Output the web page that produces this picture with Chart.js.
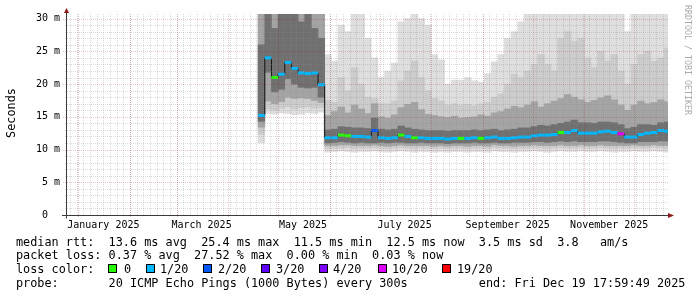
<!DOCTYPE html>
<html>
<head>
<meta charset="utf-8">
<title>smokeping</title>
<script src="https://cdn.jsdelivr.net/npm/chart.js@4.4.0/dist/chart.umd.min.js"></script>
<style>
  html, body { margin: 0; padding: 0; background: #fff; }
  #wrap { position: relative; width: 697px; height: 297px; overflow: hidden; }
  #myChart { position: absolute; left: 0; top: 0; }
  .leg { position: absolute; font: 11.83px "DejaVu Sans Mono", monospace; white-space: pre; color: #000; line-height: 14px; }
  .box { position: absolute; top: 264px; width: 7px; height: 7px; border: 1px solid #000; }
</style>
</head>
<body>
<div id="wrap">
  <canvas id="myChart" width="697" height="297"></canvas>
  <div class="leg" style="left:16px;top:234.5px">median rtt:  13.6 ms avg  25.4 ms max  11.5 ms min  12.5 ms now  3.5 ms sd  3.8   am/s</div>
  <div class="leg" style="left:16px;top:248.2px">packet loss: 0.37 % avg  27.52 % max  0.00 % min  0.03 % now</div>
  <div class="leg" style="left:16px;top:261.9px">loss color:</div>
  <div id="lossRow"></div>
  <div class="leg" style="left:16px;top:275.6px">probe:       20 ICMP Echo Pings (1000 Bytes) every 300s          end: Fri Dec 19 17:59:49 2025</div>
</div>
<script>
// days counted from 1 Jan 2025, one bin = 4 days
const days = [110,114,118,122,126,130,134,138,142,146,
  150,154,158,162,166,170,174,178,182,186,
  190,194,198,202,206,210,214,218,222,226,
  230,234,238,242,246,250,254,258,262,266,
  270,274,278,282,286,290,294,298,302,306,
  310,314,318,322,326,330,334,338,342,346,
  350,354];

// median rtt (ms)
const median = [15.2,24.0,21.0,21.5,23.3,22.4,21.7,21.6,21.7,19.9,
  11.8,11.8,12.2,12.1,12.0,12.0,11.9,12.9,11.8,11.7,
  11.8,12.2,12.0,11.8,11.8,11.7,11.7,11.7,11.6,11.7,
  11.7,11.7,11.8,11.7,11.8,11.9,11.7,11.7,11.8,11.9,
  11.9,12.1,12.2,12.2,12.3,12.6,12.6,12.9,12.5,12.5,
  12.5,12.7,12.8,12.6,12.4,11.9,11.9,12.3,12.5,12.6,
  12.9,12.8];

// lost pings out of 20
const loss = [1,1,0,1,1,1,1,1,1,1,
  1,1,0,0,1,1,1,2,1,1,
  1,0,1,0,1,1,1,1,1,1,
  0,1,1,0,1,1,1,1,1,1,
  1,1,1,1,1,0,1,1,1,1,
  1,1,1,1,10,1,1,1,1,1,
  1,1];

// smoke bands (ms), outer -> inner
const aLo = [11.0,15.5,15.4,15.6,15.5,15.3,15.4,15.6,15.5,15.7,
  9.6,9.7,9.8,9.7,9.6,9.7,9.7,9.8,9.7,9.6,
  9.7,9.8,9.7,9.6,9.7,9.7,9.6,9.7,9.6,9.7,
  9.7,9.6,9.7,9.7,9.6,9.8,9.7,9.7,9.6,9.7,
  9.7,9.8,9.7,9.6,9.7,9.8,9.7,9.7,9.8,9.7,
  9.7,9.8,9.7,9.6,9.7,9.7,9.8,9.7,9.7,9.8,
  9.7,9.6];
const aHi = [30.7,30.7,30.7,30.7,30.7,30.7,30.7,30.7,30.7,30.7,
  24.5,23.5,29.0,28.0,30.7,30.7,27.0,24.0,21.0,22.0,
  23.2,29.5,30.0,30.7,30.0,29.0,24.5,23.7,20.0,20.6,
  20.6,21.0,20.5,20.3,21.6,23.4,24.5,27.0,28.0,29.5,
  30.7,30.7,30.7,30.7,30.7,30.7,30.7,30.7,30.7,30.7,
  30.7,30.7,30.7,30.7,30.7,28.0,30.7,30.7,30.7,30.7,
  30.7,30.7];
const bLo = [12.3,16.2,16.0,16.3,16.5,16.2,16.4,16.5,16.3,16.4,
  10.1,10.2,10.2,10.3,10.1,10.2,10.2,10.3,10.2,10.1,
  10.2,10.3,10.2,10.1,10.2,10.2,10.1,10.2,10.1,10.2,
  10.2,10.1,10.2,10.2,10.1,10.3,10.2,10.2,10.1,10.2,
  10.2,10.3,10.2,10.1,10.2,10.3,10.2,10.2,10.3,10.2,
  10.2,10.3,10.2,10.1,10.2,10.2,10.3,10.2,10.2,10.3,
  10.2,10.1];
const bHi = [30.7,30.7,30.7,30.7,30.7,30.7,30.7,30.7,30.7,30.7,
  17.5,17.2,21.0,19.0,22.5,20.0,18.0,17.8,17.0,17.0,
  17.4,20.5,22.0,23.5,21.0,19.0,17.8,17.4,16.8,17.0,
  16.8,16.9,16.7,17.0,17.2,18.0,18.5,20.0,21.5,21.0,
  22.0,23.0,24.5,23.0,22.0,27.0,28.0,26.5,27.0,24.0,
  22.5,25.0,23.5,24.5,22.0,20.0,23.0,24.5,25.0,23.5,
  24.0,25.5];
const cLo = [13.4,17.4,17.0,17.3,18.0,17.8,17.9,17.8,17.5,17.2,
  10.6,10.6,10.7,10.7,10.6,10.6,10.6,10.7,10.6,10.5,
  10.6,10.7,10.6,10.6,10.6,10.6,10.5,10.6,10.5,10.6,
  10.6,10.5,10.6,10.6,10.5,10.7,10.6,10.6,10.5,10.6,
  10.6,10.7,10.6,10.6,10.6,10.7,10.6,10.6,10.7,10.6,
  10.6,10.7,10.6,10.6,10.6,10.6,10.7,10.6,10.6,10.7,
  10.6,10.6];
const cHi = [30.7,30.7,30.7,30.7,30.7,30.7,30.7,30.7,30.7,30.7,
  15.2,15.8,16.5,15.6,16.8,16.2,15.5,17.0,15.0,14.8,
  15.3,16.4,16.9,17.2,16.1,15.4,15.2,15.0,14.9,15.1,
  14.8,14.9,15.0,15.3,15.1,15.6,15.8,16.2,16.6,16.4,
  16.8,17.3,16.5,17.0,17.4,17.8,18.4,18.0,17.6,17.2,
  17.5,17.9,18.2,17.6,16.8,16.0,16.8,17.4,17.0,17.2,
  17.6,17.3];
const dLo = [14.3,21.8,18.8,19.2,20.8,20.0,19.5,19.4,19.5,18.0,
  11.0,11.1,11.2,11.1,11.0,11.1,11.0,11.0,11.1,11.0,
  11.1,11.1,11.0,11.0,11.1,11.0,11.0,11.0,10.9,11.0,
  11.0,11.0,11.1,11.0,11.0,11.1,11.0,11.0,11.1,11.1,
  11.1,11.2,11.2,11.1,11.2,11.3,11.2,11.3,11.2,11.2,
  11.2,11.3,11.3,11.2,11.1,11.0,11.0,11.2,11.2,11.2,
  11.3,11.3];
const dHi = [26.0,30.7,28.5,30.7,30.7,30.7,29.5,30.7,28.5,27.0,
  13.0,13.1,13.5,13.4,13.3,13.3,13.2,14.8,13.1,13.0,
  13.1,13.6,13.3,13.1,13.0,12.9,12.9,12.9,12.8,12.9,
  12.9,12.9,13.0,12.9,13.0,13.1,12.9,13.0,13.1,13.3,
  13.3,13.5,13.7,13.6,13.8,14.0,14.2,14.5,14.1,14.1,
  14.0,14.2,14.2,14.1,13.8,13.2,13.4,13.8,13.8,13.7,
  14.1,14.2];

const labelDays = [15, 74, 135, 196, 258, 319];
const labelNames = ['January 2025', 'March 2025', 'May 2025', 'July 2025', 'September 2025', 'November 2025'];
const monthStarts = [0, 31, 59, 90, 120, 151, 181, 212, 243, 273, 304, 334];
const yTicks = [0, 5, 10, 15, 20, 25, 30];
const yLabels = [' 0  ', ' 5 m', '10 m', '15 m', '20 m', '25 m', '30 m'];
const lossSteps = [0, 1, 2, 3, 4, 10, 19];
const lossNames = ['0', '1/20', '2/20', '3/20', '4/20', '10/20', '19/20'];
const lossColors = ['#26ff00', '#00b8ff', '#0059ff', '#5e00ff', '#7e00ff', '#dd00ff', '#ff0000'];

const mono = 'DejaVu Sans Mono';
const minorCol = 'rgba(140,140,140,0.3)';
const majorCol = 'rgba(150,30,30,0.25)';

function colorFor(l) {
  return lossColors[lossSteps.indexOf(l)];
}

// legend row with colour boxes
const boxX = [108, 146, 203, 261, 319, 378, 442];
const txtX = [124, 160, 218, 276, 333, 392, 457];
const row = document.getElementById('lossRow');
lossNames.forEach((n, i) => {
  let b = document.createElement('div');
  b.className = 'box';
  b.style.left = boxX[i] + 'px';
  b.style.background = lossColors[i];
  row.appendChild(b);
  let t = document.createElement('div');
  t.className = 'leg';
  t.style.left = txtX[i] + 'px';
  t.style.top = '261.9px';
  t.textContent = n;
  row.appendChild(t);
});

function band(lo, hi, color, order) {
  return {
    type: 'bar',
    data: days.map((d, i) => ({x: d, y: [lo[i], hi[i]]})),
    backgroundColor: color,
    borderWidth: 0,
    grouped: false,
    barPercentage: 1,
    categoryPercentage: 1,
    order: order
  };
}

const decor = {
  id: 'decor',
  afterDatasetsDraw(chart) {
    const {ctx, chartArea: a, scales: {x, y}} = chart;
    ctx.save();
    ctx.lineWidth = 1;
    ctx.setLineDash([1, 1]);
    const hline = (v, col, x0) => {
      const py = Math.round(y.getPixelForValue(v)) + 0.5;
      ctx.strokeStyle = col;
      ctx.beginPath(); ctx.moveTo(x0, py); ctx.lineTo(a.right, py); ctx.stroke();
    };
    const vline = (d, col, y1) => {
      const px = Math.round(x.getPixelForValue(d)) + 0.5;
      if (px < a.left || px > a.right) return;
      ctx.strokeStyle = col;
      ctx.beginPath(); ctx.moveTo(px, a.top); ctx.lineTo(px, y1); ctx.stroke();
    };
    for (let d = -5; d < x.max; d += 4) vline(d, minorCol, a.bottom);
    for (let v = 1; v <= 30; v++) if (v % 5) hline(v, minorCol, a.left - 2);
    monthStarts.forEach(d => vline(d, majorCol, a.bottom + 3));
    yTicks.forEach(v => { if (v > 0) hline(v, majorCol, a.left - 4); });
    ctx.setLineDash([]);

    // axes + arrows
    const ax = Math.round(a.left) - 0.5;
    const ay = Math.round(a.bottom) + 0.5;
    ctx.strokeStyle = '#3a3a3a';
    ctx.beginPath(); ctx.moveTo(ax, a.top - 1); ctx.lineTo(ax, ay + 3); ctx.stroke();
    ctx.beginPath(); ctx.moveTo(a.left - 5, ay); ctx.lineTo(a.right, ay); ctx.stroke();
    ctx.fillStyle = '#8b1a1a';
    ctx.beginPath();
    ctx.moveTo(ax - 2.5, a.top - 1); ctx.lineTo(ax, a.top - 6); ctx.lineTo(ax + 2.5, a.top - 1);
    ctx.closePath(); ctx.fill();
    ctx.beginPath();
    ctx.moveTo(a.right, ay - 2.5); ctx.lineTo(a.right + 6, ay); ctx.lineTo(a.right, ay + 2.5);
    ctx.closePath(); ctx.fill();
    ctx.restore();
  },
  afterDraw(chart) {
    const ctx = chart.ctx;
    ctx.save();
    ctx.fillStyle = '#000';
    ctx.font = '11.83px "' + mono + '"';
    ctx.textAlign = 'center';
    ctx.textBaseline = 'middle';
    ctx.translate(11.5, 113);
    ctx.rotate(-Math.PI / 2);
    ctx.fillText('Seconds', 0, 0);
    ctx.restore();

    ctx.save();
    ctx.fillStyle = '#aaaaaa';
    ctx.font = '8.3px "' + mono + '"';
    ctx.textAlign = 'left';
    ctx.textBaseline = 'middle';
    ctx.translate(687.5, 5);
    ctx.rotate(Math.PI / 2);
    ctx.fillText('RRDTOOL / TOBI OETIKER', 0, 0);
    ctx.restore();
  }
};

const ctx = document.getElementById('myChart').getContext('2d');
const myChart = new Chart(ctx, {
  type: 'bar',
  data: {
    datasets: [
      band(aLo, aHi, '#dedede', 6),
      band(bLo, bHi, '#cccccc', 5),
      band(cLo, cHi, '#a4a4a4', 4),
      band(dLo, dHi, '#707070', 3),
      {
        type: 'line',
        data: days.map((d, i) => ({x: d, y: median[i]})),
        stepped: 'middle',
        borderColor: '#111111',
        borderWidth: 1,
        pointRadius: 0,
        fill: false,
        order: 2
      },
      {
        type: 'line',
        data: days.map((d, i) => ({x: d, y: median[i]})),
        showLine: false,
        pointStyle: 'line',
        pointRadius: 3.4,
        pointBorderWidth: 3,
        pointBorderColor: loss.map(colorFor),
        pointBackgroundColor: loss.map(colorFor),
        order: 1
      }
    ]
  },
  options: {
    responsive: false,
    animation: false,
    events: [],
    layout: { padding: { left: 0, right: 29, top: 14, bottom: 62 } },
    plugins: { legend: { display: false }, tooltip: { enabled: false } },
    scales: {
      x: {
        type: 'linear',
        min: -6.85,
        max: 354.3,
        offset: false,
        grid: { display: false, drawTicks: false },
        border: { display: false },
        afterBuildTicks: s => { s.ticks = labelDays.map(v => ({value: v})); },
        afterFit: s => { s.height = 20; },
        ticks: {
          autoSkip: false, maxRotation: 0, minRotation: 0, padding: 4,
          color: '#000', font: { family: mono, size: 10 },
          callback: (v, i) => labelNames[i]
        }
      },
      y: {
        min: 0,
        max: 30.7,
        grid: { display: false, drawTicks: false },
        border: { display: false },
        afterBuildTicks: s => { s.ticks = yTicks.map(v => ({value: v})); },
        afterFit: s => { s.width = 67; },
        ticks: {
          autoSkip: false, padding: 7,
          color: '#000', font: { family: mono, size: 10 },
          callback: (v, i) => yLabels[i]
        }
      }
    }
  },
  plugins: [decor]
});
</script>
</body>
</html>
